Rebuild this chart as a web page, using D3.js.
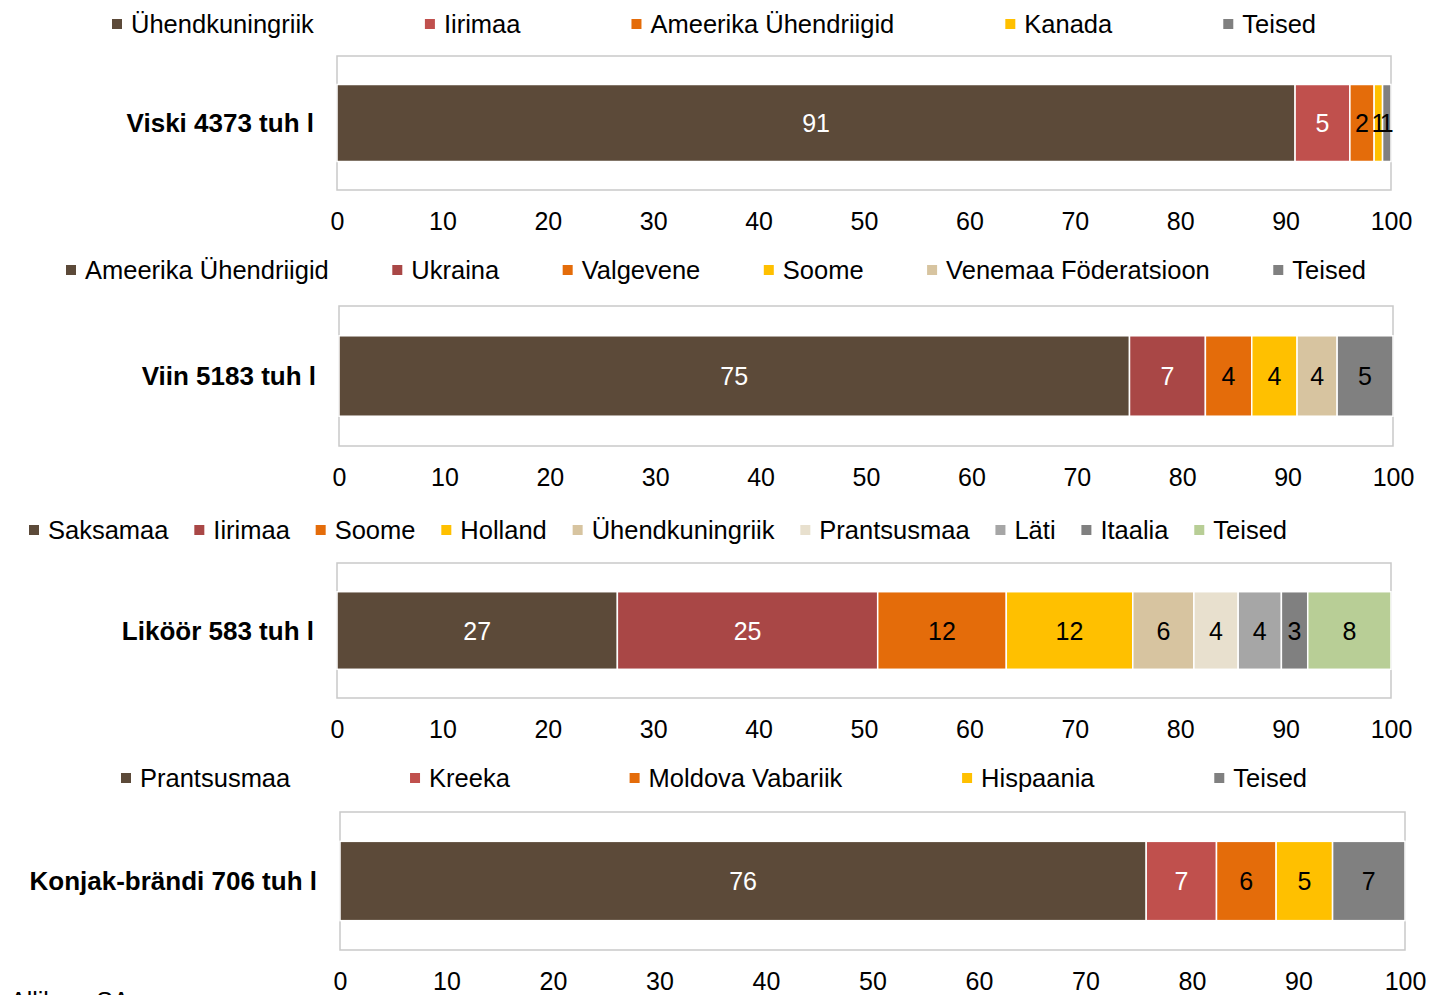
<!DOCTYPE html>
<html lang="et">
<head>
<meta charset="UTF-8">
<title>Alkoholi import päritoluriigiti</title>
<script src="https://d3js.org/d3.v7.min.js"></script>
<style>
    body {
        margin: 0;
        background: #fff;
        overflow: hidden;
        font-family: "Liberation Sans", Arial, sans-serif;
    }
    svg { display: block; }
    .tick text { font-size: 25px; fill: #000; }
</style>
</head>
<body>
<svg id="chart" width="1441" height="995"></svg>
<script>
// shares of import volume, %
const viskiLabel = "Viski 4373 tuh l";
const viskiCountries = ["Ühendkuningriik", "Iirimaa", "Ameerika Ühendriigid", "Kanada", "Teised"];
const viskiShares = [90.9, 5.2, 2.3, 0.8, 0.8];

const viinLabel = "Viin 5183 tuh l";
const viinCountries = ["Ameerika Ühendriigid", "Ukraina", "Valgevene", "Soome", "Venemaa Föderatsioon", "Teised"];
const viinShares = [75.0, 7.2, 4.4, 4.3, 3.8, 5.3];

const likoorLabel = "Liköör 583 tuh l";
const likoorCountries = ["Saksamaa", "Iirimaa", "Soome", "Holland", "Ühendkuningriik", "Prantsusmaa", "Läti", "Itaalia", "Teised"];
const likoorShares = [26.6, 24.7, 12.2, 12.0, 5.8, 4.2, 4.1, 2.5, 7.9];

const konjakLabel = "Konjak-brändi 706 tuh l";
const konjakCountries = ["Prantsusmaa", "Kreeka", "Moldova Vabariik", "Hispaania", "Teised"];
const konjakShares = [75.7, 6.6, 5.6, 5.3, 6.8];

const axisTicks = [0, 10, 20, 30, 40, 50, 60, 70, 80, 90, 100];
const sourceNote = "Allikas: SA";

const brown = "#5c4a39", red = "#c0504d", darkRed = "#a94746", orange = "#e46c0a",
      yellow = "#ffc000", tan = "#d7c4a0", beige = "#e8e0ce", lightGray = "#a6a6a6",
      gray = "#808080", green = "#b8ce96";

const panels = [
    { label: viskiLabel, names: viskiCountries, values: viskiShares,
      colors: [brown, red, orange, yellow, gray],
      box: { x0: 337, x1: 1391, y0: 56, y1: 190 }, legendY: 24, legendSpan: [112, 1316] },
    { label: viinLabel, names: viinCountries, values: viinShares,
      colors: [brown, darkRed, orange, yellow, tan, gray],
      box: { x0: 339, x1: 1393, y0: 306, y1: 446 }, legendY: 270, legendSpan: [66, 1366] },
    { label: likoorLabel, names: likoorCountries, values: likoorShares,
      colors: [brown, darkRed, orange, yellow, tan, beige, lightGray, gray, green],
      box: { x0: 337, x1: 1391, y0: 563, y1: 698 }, legendY: 530, legendSpan: [29, 1287] },
    { label: konjakLabel, names: konjakCountries, values: konjakShares,
      colors: [brown, red, orange, yellow, gray],
      box: { x0: 340, x1: 1405, y0: 812, y1: 950 }, legendY: 778, legendSpan: [121, 1307] }
];

const svg = d3.select("#chart");

panels.forEach(p => {
    const g = svg.append("g");

    const x = d3.scaleLinear().domain([0, 100]).range([p.box.x0, p.box.x1]);
    const y = d3.scaleBand().domain([p.label]).range([p.box.y0, p.box.y1])
        .paddingInner(0).paddingOuter(0.37);

    // plot area frame
    g.append("rect")
        .attr("x", p.box.x0).attr("y", p.box.y0)
        .attr("width", p.box.x1 - p.box.x0).attr("height", p.box.y1 - p.box.y0)
        .attr("fill", "#fff").attr("stroke", "#c9c9c9").attr("stroke-width", 1.5);

    // stacked segments
    const starts = [0, ...d3.cumsum(p.values)].slice(0, p.values.length);
    const segs = p.values.map((v, i) => ({ v, start: starts[i], color: p.colors[i] }));

    g.selectAll("rect.seg").data(segs).join("rect")
        .attr("class", "seg")
        .attr("x", d => x(d.start))
        .attr("y", y(p.label))
        .attr("width", d => x(d.start + d.v) - x(d.start))
        .attr("height", y.bandwidth())
        .attr("fill", d => d.color)
        .attr("stroke", "#fff").attr("stroke-width", 1.5);

    g.selectAll("text.val").data(segs).join("text")
        .attr("class", "val")
        .attr("x", d => x(d.start + d.v / 2))
        .attr("y", y(p.label) + y.bandwidth() / 2)
        .attr("dy", "0.36em")
        .attr("text-anchor", "middle")
        .style("font-size", "25px")
        .attr("fill", d => d3.lab(d.color).l < 52 ? "#fff" : "#000")
        .text(d => Math.round(d.v));

    // category label
    g.append("text")
        .attr("x", p.box.x0 - 23)
        .attr("y", y(p.label) + y.bandwidth() / 2)
        .attr("dy", "0.36em")
        .attr("text-anchor", "end")
        .style("font-size", "26px")
        .style("font-weight", "bold")
        .text(p.label);

    // x axis labels
    const ax = g.append("g")
        .attr("transform", `translate(0,${p.box.y1 + 22})`)
        .call(d3.axisBottom(x).tickValues(axisTicks).tickSize(0).tickPadding(0));
    ax.select(".domain").remove();
    ax.selectAll(".tick text").attr("dy", "0.71em").style("font-family", "inherit");

    // legend, spread evenly across its span
    const items = g.append("g").selectAll("g").data(p.names).join("g");
    items.append("rect")
        .attr("y", p.legendY - 5).attr("width", 10).attr("height", 10)
        .attr("fill", (d, i) => p.colors[i]);
    items.append("text")
        .attr("x", 19).attr("y", p.legendY).attr("dy", "0.36em")
        .style("font-size", "25.5px")
        .text(d => d);

    const widths = [];
    items.each(function () { widths.push(19 + d3.select(this).select("text").node().getComputedTextLength()); });
    const gap = (p.legendSpan[1] - p.legendSpan[0] - d3.sum(widths)) / (widths.length - 1);
    let cx = p.legendSpan[0];
    items.attr("transform", (d, i) => {
        const t = `translate(${cx},0)`;
        cx += widths[i] + gap;
        return t;
    });
});

svg.append("text")
    .attr("x", 10).attr("y", 1010)
    .style("font-size", "25px")
    .text(sourceNote);
</script>
</body>
</html>
